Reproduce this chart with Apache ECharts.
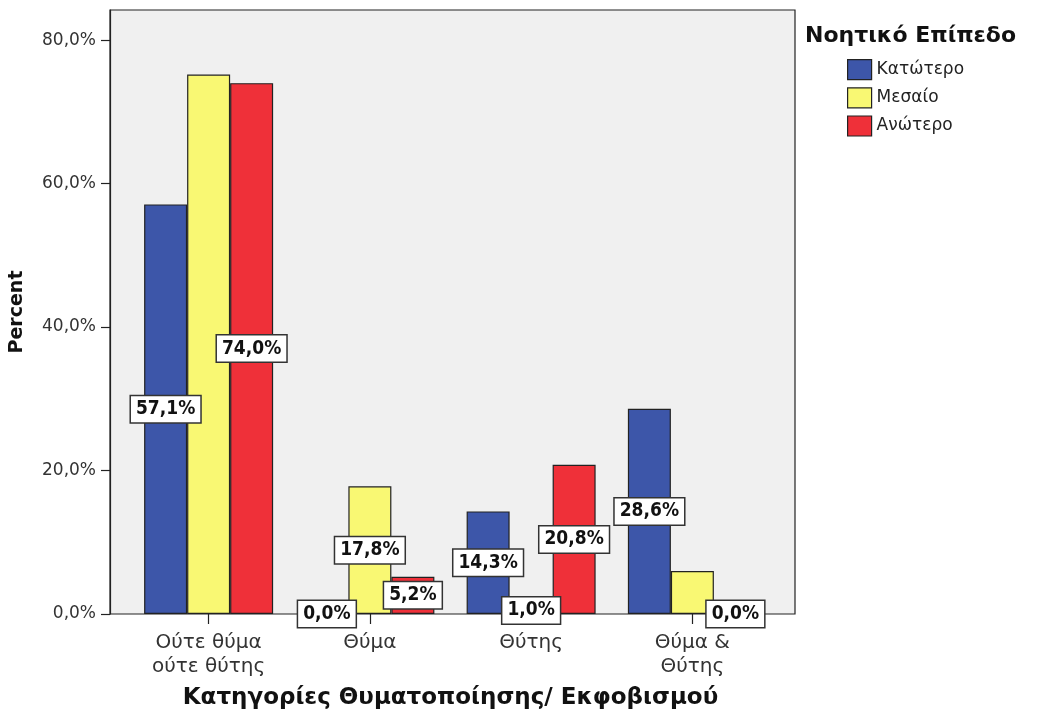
<!DOCTYPE html>
<html>
<head>
<meta charset="utf-8">
<script src="https://cdn.jsdelivr.net/npm/echarts@6/dist/echarts.min.js"></script>
<style>
html,body{margin:0;padding:0;background:#fff;}
#chart{width:1040px;height:720px;}
</style>
</head>
<body>
<div id="chart"></div>
<script>
const categories = ['Ούτε θύμα\nούτε θύτης', 'Θύμα', 'Θύτης', 'Θύμα &\nΘύτης'];
const seriesNames = ['Κατώτερο', 'Μεσαίο', 'Ανώτερο'];
const lowValues = [57.1, 0.0, 14.3, 28.6];
const midValues = [75.2, 17.8, 1.0, 6.0];
const highValues = [74.0, 5.2, 20.8, 0.0];
const yTicks = [0, 20, 40, 60, 80];
const seriesColors = ['#3d56a9', '#f9f873', '#ef3039'];
// labels not shown in the reference: [seriesIndex, categoryIndex]
const hiddenLabels = [[1, 0], [1, 3]];

const allValues = [lowValues, midValues, highValues];
const FONT = 'DejaVu Sans';
const FONT_COND = 'DejaVu Sans Condensed';
const fmt = v => v.toFixed(1).replace('.', ',') + '%';
const Y_MAX = 84.2;

const series = allValues.map((vals, si) => ({
  name: seriesNames[si],
  type: 'bar',
  xAxisIndex: 1,
  yAxisIndex: 1,
  barWidth: 43,
  barGap: '0%',
  itemStyle: { color: seriesColors[si], borderColor: '#222', borderWidth: 1.2 },
  label: {
    show: true,
    position: 'inside',
    formatter: p => fmt(p.value),
    fontFamily: FONT_COND,
    fontWeight: 'bold',
    fontSize: 19,
    color: '#111',
    backgroundColor: '#fff',
    borderColor: '#333',
    borderWidth: 1.5,
    padding: [4, 5, 3, 5]
  },
  data: vals.map((v, ci) => {
    const hide = hiddenLabels.some(h => h[0] === si && h[1] === ci);
    return hide ? { value: v, label: { show: false } } : v;
  })
}));

const chart = echarts.init(document.getElementById('chart'), null, { renderer: 'canvas' });
chart.setOption({
  backgroundColor: '#fff',
  animation: false,
  title: {
    text: 'Νοητικό Επίπεδο',
    left: 805,
    top: 25,
    padding: 0,
    textStyle: { fontFamily: FONT, fontWeight: 'bold', fontSize: 22, color: '#111' }
  },
  legend: {
    orient: 'vertical',
    left: 847,
    top: 59,
    padding: 0,
    itemWidth: 24,
    itemHeight: 20,
    itemGap: 7,
    icon: 'rect',
    data: seriesNames,
    itemStyle: { borderColor: '#222', borderWidth: 1.2 },
    textStyle: { fontFamily: FONT, fontSize: 17, color: '#222', lineHeight: 20 }
  },
  grid: [
    { left: 110, top: 10, width: 685, height: 604, show: true, backgroundColor: '#f0f0f0', borderColor: '#222', borderWidth: 1.2, containLabel: false },
    { left: 128, top: 10, width: 645, height: 604, containLabel: false }
  ],
  xAxis: [
    { gridIndex: 0, type: 'category', data: categories, show: false },
    {
      gridIndex: 1,
      type: 'category',
      data: categories,
      axisLine: { show: false },
      axisTick: { show: true, alignWithLabel: true, length: 10, lineStyle: { color: '#222', width: 1.2 } },
      axisLabel: { fontFamily: FONT, fontSize: 20, color: '#333', margin: 17, lineHeight: 24 },
      name: 'Κατηγορίες Θυματοποίησης/ Εκφοβισμού',
      nameLocation: 'middle',
      nameGap: 73,
      nameTextStyle: { fontFamily: FONT, fontWeight: 'bold', fontSize: 23, color: '#111' }
    }
  ],
  yAxis: [
    {
      gridIndex: 0,
      type: 'value',
      min: 0,
      max: Y_MAX,
      interval: 20,
      splitLine: { show: false },
      axisLine: { show: true, lineStyle: { color: '#222', width: 1.2 } },
      axisTick: { show: true, length: 9, customValues: yTicks, lineStyle: { color: '#222', width: 1.2 } },
      axisLabel: { customValues: yTicks, formatter: v => fmt(v), fontFamily: FONT, fontSize: 17, color: '#333', margin: 14 },
      name: 'Percent',
      nameLocation: 'middle',
      nameGap: 83,
      nameRotate: 90,
      nameTextStyle: { fontFamily: FONT, fontWeight: 'bold', fontSize: 19, color: '#111' }
    },
    { gridIndex: 1, type: 'value', min: 0, max: Y_MAX, show: false, splitLine: { show: false } }
  ],
  series: series
});
</script>
</body>
</html>
